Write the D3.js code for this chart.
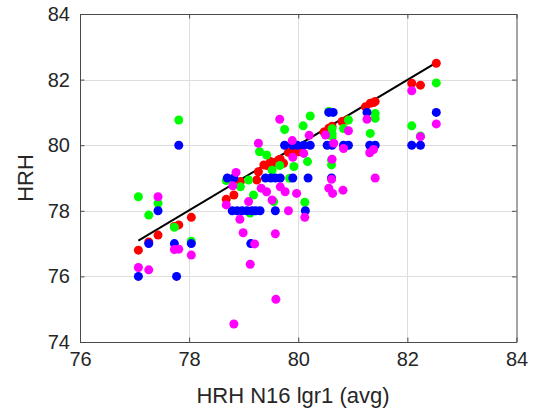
<!DOCTYPE html>
<html>
<head>
<meta charset="utf-8">
<script src="https://cdn.jsdelivr.net/npm/d3@7"></script>
<style>
  html, body { margin: 0; padding: 0; background: #fff; }
  svg { display: block; }
  text { font-family: "Liberation Sans", Arial, Helvetica, sans-serif; fill: #262626; }
</style>
</head>
<body>
<svg id="chart" width="533" height="417"></svg>
<script>
// ---- data ----
const xTicks = [76, 78, 80, 82, 84];
const yTicks = [74, 76, 78, 80, 82, 84];
const xLabel = "HRH N16 lgr1 (avg)";
const yLabel = "HRH";

const redX = [77.07,77.26,77.43,77.73,77.81,78.04,78.68,78.82,78.94,79.24,79.27,79.37,79.43,79.49,79.52,79.58,79.64,79.67,79.73,79.82,79.95,80.00,80.07,80.47,80.56,80.62,80.80,80.89,81.23,81.32,81.38,81.41,82.08,82.24,82.53];
const redY = [76.80,77.05,77.26,77.52,77.57,77.80,78.35,78.48,78.89,78.94,79.19,79.40,79.38,79.50,79.45,79.47,79.55,79.57,79.45,79.78,79.85,79.80,79.95,80.40,80.52,80.58,80.72,80.77,81.17,81.28,81.30,81.33,81.89,81.83,82.50];

const greenX = [77.07,77.26,77.43,77.73,77.81,78.04,78.68,78.94,79.09,79.12,79.18,79.29,79.42,79.52,79.55,79.66,79.75,79.84,79.92,80.09,80.12,80.17,80.22,80.56,80.61,80.61,80.62,80.62,80.62,80.83,80.92,81.32,81.41,81.41,82.08,82.24,82.53];
const greenY = [78.43,77.87,78.23,77.50,80.77,77.07,78.92,78.73,78.94,77.93,78.48,79.80,79.70,79.24,78.28,79.38,80.48,78.99,79.35,80.59,78.26,79.50,80.89,81.03,79.40,79.55,80.50,80.36,80.26,80.51,80.77,80.36,80.97,80.82,80.59,80.28,81.90];

const blueX = [77.07,77.26,77.43,77.73,77.77,77.81,78.04,78.70,78.82,78.79,78.88,78.97,79.06,79.15,79.22,79.30,79.13,79.40,79.50,79.58,79.67,79.58,79.75,79.89,79.98,79.90,80.10,80.22,80.13,80.18,80.53,80.62,80.56,80.64,80.61,80.83,80.92,81.26,81.31,81.41,82.08,82.24,82.53];
const blueY = [76,77,78,77,76,80,77,79,79,78,78,78,78,78,78,78,77,79,79,79,79,78,80,80,80,79,80,80,78,79,80,80,81,81,79,80,80,81,80,80,80,80,81];

const magentaX = [77.07,77.26,77.43,77.73,77.81,78.04,78.68,78.80,78.86,78.82,78.93,78.99,79.09,79.12,79.20,79.27,79.32,79.42,79.52,79.58,79.59,79.66,79.67,79.76,79.82,79.89,79.90,79.97,80.10,80.12,80.20,80.50,80.56,80.61,80.62,80.63,80.65,80.82,80.83,80.92,81.26,81.31,81.38,81.41,82.08,82.24,82.53];
const magentaY = [76.27,76.20,78.43,76.82,76.83,76.65,78.18,78.76,79.17,74.55,77.74,77.33,78.28,76.37,76.99,80.06,78.69,78.58,78.33,77.30,75.30,80.79,78.73,78.58,78.00,80.14,79.63,78.53,79.75,77.80,80.30,80.31,78.69,78.96,79.57,78.53,80.06,78.63,79.90,80.44,80.79,79.77,79.87,79.00,81.66,80.26,80.65];

const fitX = [77.07, 82.53];
const fitY = [77.09, 82.52];

// ---- layout ----
const W = 533, H = 417;
const plot = { left: 80, right: 516.5, top: 14, bottom: 342 };

const svg = d3.select("#chart");
const x = d3.scaleLinear().domain([76, 84]).range([plot.left, plot.right]);
const y = d3.scaleLinear().domain([74, 84]).range([plot.bottom, plot.top]);

// background
svg.append("rect").attr("x", plot.left).attr("y", plot.top)
  .attr("width", plot.right - plot.left).attr("height", plot.bottom - plot.top)
  .attr("fill", "#fff");

// grid
const grid = svg.append("g").attr("stroke", "#dedede").attr("stroke-width", 1);
grid.selectAll("line.vx").data(xTicks.slice(1, -1)).join("line")
  .attr("x1", d => Math.round(x(d)) + 0.5).attr("x2", d => Math.round(x(d)) + 0.5)
  .attr("y1", plot.top).attr("y2", plot.bottom);
grid.selectAll("line.hy").data(yTicks.slice(1, -1)).join("line")
  .attr("y1", d => Math.round(y(d)) + 0.5).attr("y2", d => Math.round(y(d)) + 0.5)
  .attr("x1", plot.left).attr("x2", plot.right);

// fit line
svg.append("path")
  .datum(fitX.map((d, i) => [d, fitY[i]]))
  .attr("d", d3.line().x(d => x(d[0])).y(d => y(d[1])))
  .attr("fill", "none").attr("stroke", "#000").attr("stroke-width", 2);

// scatter series
const series = [
  { xs: redX, ys: redY, color: "#ff0000" },
  { xs: greenX, ys: greenY, color: "#00ff00" },
  { xs: blueX, ys: blueY, color: "#0000ff" },
  { xs: magentaX, ys: magentaY, color: "#ff00ff" }
];
series.forEach(s => {
  svg.append("g").selectAll("circle")
    .data(s.xs.map((d, i) => [d, s.ys[i]]))
    .join("circle")
    .attr("cx", d => x(d[0])).attr("cy", d => y(d[1]))
    .attr("r", 4.5).attr("fill", s.color);
});

// axes (box + inward ticks)
const axisColor = "#4a4a4a";
const tickLen = 4.5;
const xAxisB = d3.axisBottom(x).tickValues(xTicks).tickSizeInner(-tickLen).tickSizeOuter(0).tickPadding(10);
const xAxisT = d3.axisTop(x).tickValues(xTicks).tickSizeInner(-tickLen).tickSizeOuter(0).tickFormat("");
const yAxisL = d3.axisLeft(y).tickValues(yTicks).tickSizeInner(-tickLen).tickSizeOuter(0).tickPadding(10);
const yAxisR = d3.axisRight(y).tickValues(yTicks).tickSizeInner(-tickLen).tickSizeOuter(0).tickFormat("");

function style(g) {
  g.selectAll("path.domain").attr("stroke", axisColor).attr("stroke-width", 1);
  g.selectAll(".tick line").attr("stroke", axisColor).attr("stroke-width", 1);
  g.selectAll(".tick text").attr("fill", "#262626")
    .style("font-family", '"Liberation Sans", Arial, sans-serif').style("font-size", "20px");
}
svg.append("g").attr("transform", `translate(0,${plot.bottom})`).call(xAxisB).call(style)
  .selectAll(".tick text").attr("dy", "0.71em");
svg.append("g").attr("transform", `translate(0,${plot.top})`).call(xAxisT).call(style);
svg.append("g").attr("transform", `translate(${plot.left},0)`).call(yAxisL).call(style);
svg.append("g").attr("transform", `translate(${plot.right},0)`).call(yAxisR).call(style);

// axis labels
svg.append("text").attr("x", 293).attr("y", 402.5).attr("text-anchor", "middle")
  .style("font-size", "22px").text(xLabel);
svg.append("text").attr("transform", `translate(32.5,178) rotate(-90)`).attr("text-anchor", "middle")
  .style("font-size", "22px").text(yLabel);
</script>
</body>
</html>
